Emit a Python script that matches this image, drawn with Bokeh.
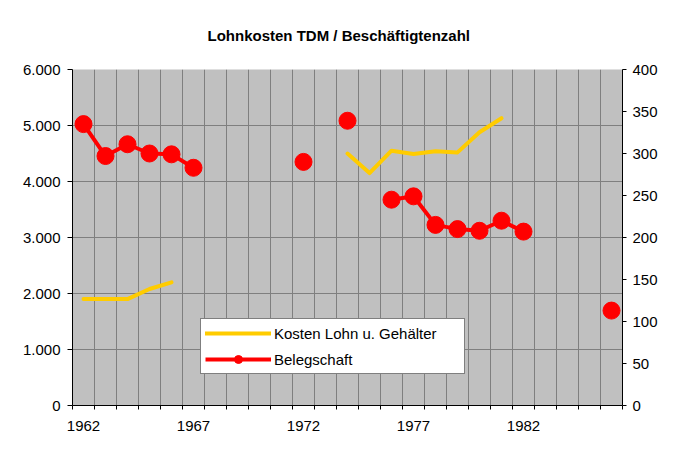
import math
from bokeh.plotting import figure
from bokeh.models import (Range1d, LinearAxis, FixedTicker, Legend, LegendItem, Title)
from bokeh.embed import file_html
from bokeh.resources import INLINE

nan = float("nan")

years = list(range(1962, 1987))
kosten = [1900, 1900, 1900, 2080, 2200,
          nan, nan, nan, nan, nan, nan, nan,
          4500, 4150, 4550, 4490, 4540, 4520, 4880, 5130,
          nan, nan, nan, nan, nan]
belegschaft = [335, 297, 311, 300, 299, 283,
               nan, nan, nan, nan,
               290, nan, 339, nan,
               245, 249, 215, 210, 208, 220, 207,
               nan, nan, nan, 113]

x_labels = [1962, 1967, 1972, 1977, 1982]
left_ticks = [0, 1000, 2000, 3000, 4000, 5000, 6000]
right_ticks = [0, 50, 100, 150, 200, 250, 300, 350, 400]
title_text = "Lohnkosten TDM / Beschäftigtenzahl"
name_kosten = "Kosten Lohn u. Gehälter"
name_beleg = "Belegschaft"

FONT = "Liberation Sans"
YELLOW = "#FFCC00"
RED = "#FF0000"
GRID = "#7F7F7F"

p = figure(width=675, height=457, output_backend="svg", toolbar_location=None,
           x_range=Range1d(years[0] - 0.5, years[-1] + 0.5),
           y_range=Range1d(0, 6000),
           min_border_left=72, min_border_right=53,
           min_border_top=69, min_border_bottom=52)
p.extra_y_ranges = {"right": Range1d(0, 400)}
p.background_fill_color = "#C0C0C0"
p.border_fill_color = "white"
p.outline_line_color = None

p.title = Title(text=title_text, align="left", offset=135, standoff=48,
                vertical_align="top",
                text_font=FONT, text_font_size="15px", text_font_style="bold",
                text_color="black")

# x axis
bounds = [y + 0.5 for y in years[:-1]]
xa = p.xaxis[0]
xa.ticker = FixedTicker(ticks=x_labels, minor_ticks=[years[0] - 0.5] + bounds + [years[-1] + 0.5])
xa.major_tick_out = 0
xa.major_tick_in = 0
xa.minor_tick_out = 4
xa.minor_tick_in = 0
xa.minor_tick_line_color = "black"
xa.axis_line_color = "black"
xa.major_label_text_font = FONT
xa.major_label_text_font_size = "15px"
xa.major_label_text_color = "black"
xa.major_label_standoff = 11

# left axis
ya = p.yaxis[0]
ya.ticker = FixedTicker(ticks=left_ticks)
ya.major_label_overrides = {t: f"{t:,}".replace(",", ".") for t in left_ticks}
ya.major_tick_out = 5
ya.major_tick_in = 0
ya.minor_tick_out = 0
ya.minor_tick_in = 0
ya.major_tick_line_color = "black"
ya.axis_line_color = "black"
ya.major_label_text_font = FONT
ya.major_label_text_font_size = "15px"
ya.major_label_text_color = "black"
ya.major_label_standoff = 7

# right axis
ra = LinearAxis(y_range_name="right", ticker=FixedTicker(ticks=right_ticks))
ra.major_tick_out = 4
ra.major_tick_in = 0
ra.minor_tick_out = 0
ra.minor_tick_in = 0
ra.major_tick_line_color = "black"
ra.axis_line_color = "black"
ra.major_label_text_font = FONT
ra.major_label_text_font_size = "15px"
ra.major_label_text_color = "black"
ra.major_label_standoff = 6
p.add_layout(ra, "right")

# grids
p.xgrid.ticker = FixedTicker(ticks=bounds)
p.xgrid.grid_line_color = GRID
p.xgrid.grid_line_width = 1
p.ygrid.grid_line_color = GRID
p.ygrid.grid_line_width = 1

# series
r_k = p.line(years, kosten, line_color=YELLOW, line_width=4, line_join="round", line_cap="round")
r_bl = p.line(years, belegschaft, line_color=RED, line_width=4, y_range_name="right",
              line_join="round")
r_bs = p.scatter(years, belegschaft, size=17, marker="circle", fill_color=RED, line_color=RED,
                 y_range_name="right")
r_leg_marker = p.scatter([nan], [nan], size=7, marker="circle", fill_color=RED, line_color=RED)

legend = Legend(items=[LegendItem(label=name_kosten, renderers=[r_k]),
                       LegendItem(label=name_beleg, renderers=[r_bl, r_leg_marker])],
                location=(128, 31), orientation="vertical")
legend.border_line_color = "black"
legend.border_line_width = 1
legend.background_fill_color = "white"
legend.background_fill_alpha = 1
legend.padding = 4
legend.spacing = 6
legend.glyph_width = 66
legend.glyph_height = 20
legend.label_height = 20
legend.label_width = 186
legend.label_standoff = 3
legend.label_text_font = FONT
legend.label_text_font_size = "15px"
legend.label_text_color = "black"
legend.margin = 0
p.add_layout(legend, "center")

open("out.html", "w").write(file_html(p, INLINE))
